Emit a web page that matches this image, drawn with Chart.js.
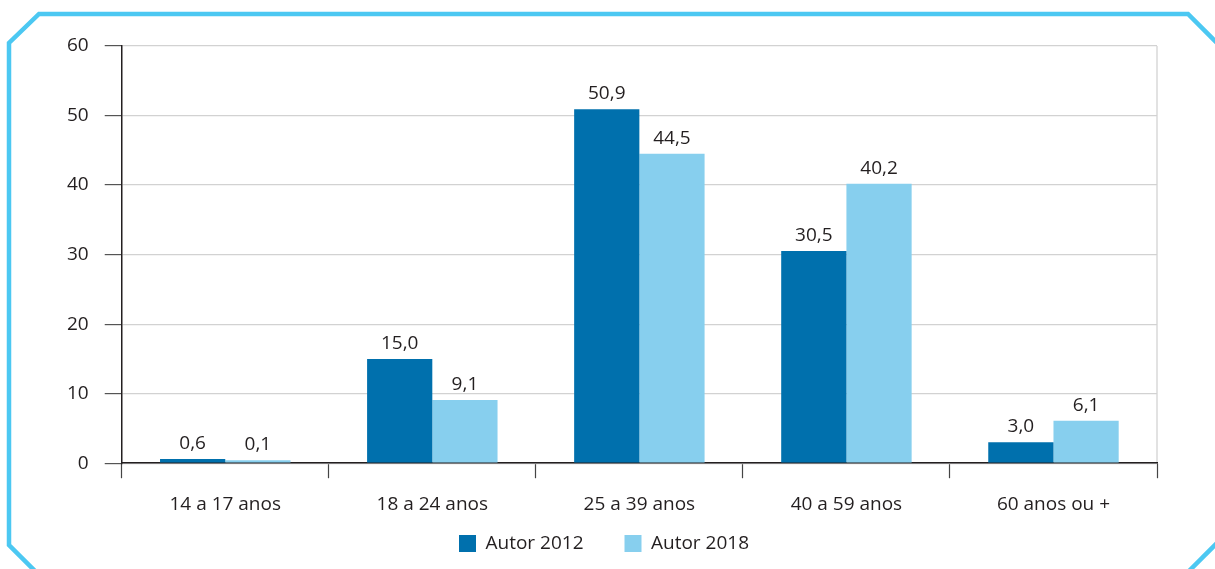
<!DOCTYPE html>
<html>
<head>
<meta charset="utf-8">
<script src="https://cdn.jsdelivr.net/npm/chart.js@4.4.0/dist/chart.umd.min.js"></script>
<style>
  html, body { margin: 0; padding: 0; background: #fff; }
  #wrap { width: 1215px; height: 569px; position: relative; }
</style>
</head>
<body>
<div id="wrap"><canvas id="ageChart"></canvas></div>
<script>
const categories = ['14 a 17 anos', '18 a 24 anos', '25 a 39 anos', '40 a 59 anos', '60 anos ou +'];
const autor2012 = [0.6, 15.0, 50.9, 30.5, 3.0];
const autor2018 = [0.1, 9.1, 44.5, 40.2, 6.1];
const yTicks = [0, 10, 20, 30, 40, 50, 60];

const FONT = '"Open Sans", "Noto Sans", sans-serif';
const TEXT = '#231f20';

// cyan frame with cut corners, drawn behind the chart
const framePlugin = {
  id: 'frame',
  beforeDraw(chart) {
    const c = chart.ctx;
    c.save();
    c.strokeStyle = '#4cc8f2';
    c.lineWidth = 4.5;
    c.lineJoin = 'miter';
    c.beginPath();
    c.moveTo(36, 572);
    c.lineTo(9, 545);
    c.lineTo(9, 43);
    c.lineTo(39, 14);
    c.lineTo(1188, 14);
    c.lineTo(1218, 44);
    c.stroke();
    c.beginPath();
    c.moveTo(1188, 572);
    c.lineTo(1218, 542);
    c.stroke();
    // light line on the right side of the plot area
    const a = chart.chartArea;
    c.strokeStyle = '#cfcfcf';
    c.lineWidth = 1.2;
    c.beginPath();
    c.moveTo(a.right, a.bottom);
    c.lineTo(a.right, a.top);
    c.stroke();
    c.restore();
  }
};

// value labels above the bars, comma decimals
const valueLabels = {
  id: 'valueLabels',
  afterDatasetsDraw(chart) {
    const c = chart.ctx;
    c.save();
    c.font = '19px ' + FONT;
    c.fillStyle = TEXT;
    c.textAlign = 'center';
    c.textBaseline = 'bottom';
    chart.data.datasets.forEach((ds, i) => {
      chart.getDatasetMeta(i).data.forEach((bar, j) => {
        const txt = ds.data[j].toFixed(1).replace('.', ',');
        c.fillText(txt, bar.x, bar.y - 6);
      });
    });
    c.restore();
  }
};

new Chart(document.getElementById('ageChart').getContext('2d'), {
  type: 'bar',
  data: {
    labels: categories,
    datasets: [{
      label: 'Autor 2012',
      data: autor2012,
      backgroundColor: '#0070ad',
      borderWidth: 0,
      minBarLength: 3
    }, {
      label: 'Autor 2018',
      data: autor2018,
      backgroundColor: '#87cfee',
      borderWidth: 0,
      minBarLength: 3
    }]
  },
  options: {
    responsive: true,
    maintainAspectRatio: false,
    animation: false,
    categoryPercentage: 0.63,
    barPercentage: 1.0,
    layout: { padding: { top: 46, right: 58, left: 51, bottom: 6 } },
    plugins: {
      tooltip: { enabled: false },
      legend: {
        position: 'bottom',
        labels: {
          font: { family: FONT, size: 19 },
          color: TEXT,
          boxWidth: 17,
          boxHeight: 17,
          padding: 3,
          // wider gap after the first item (padding also sets the vertical gap)
          generateLabels(chart) {
            const items = Chart.defaults.plugins.legend.labels.generateLabels(chart);
            items[0].text += '\u2003\u2003';
            return items;
          }
        }
      }
    },
    scales: {
      x: {
        grid: {
          offset: true,
          drawOnChartArea: false,
          tickLength: 15,
          tickColor: '#444',
          tickWidth: 1.2
        },
        border: { color: '#231f20', width: 1.5 },
        ticks: {
          font: { family: FONT, size: 19 },
          color: TEXT,
          padding: 15
        }
      },
      y: {
        min: 0,
        max: 60,
        afterBuildTicks(axis) { axis.ticks = yTicks.map(v => ({ value: v })); },
        grid: {
          color: '#d2d2d2',
          lineWidth: 1.2,
          tickLength: 17,
          tickColor: '#555',
          tickWidth: 1.2
        },
        border: { color: '#231f20', width: 1.5 },
        ticks: {
          font: { family: FONT, size: 19 },
          color: TEXT,
          padding: 16
        }
      }
    }
  },
  plugins: [framePlugin, valueLabels]
});
</script>
</body>
</html>
